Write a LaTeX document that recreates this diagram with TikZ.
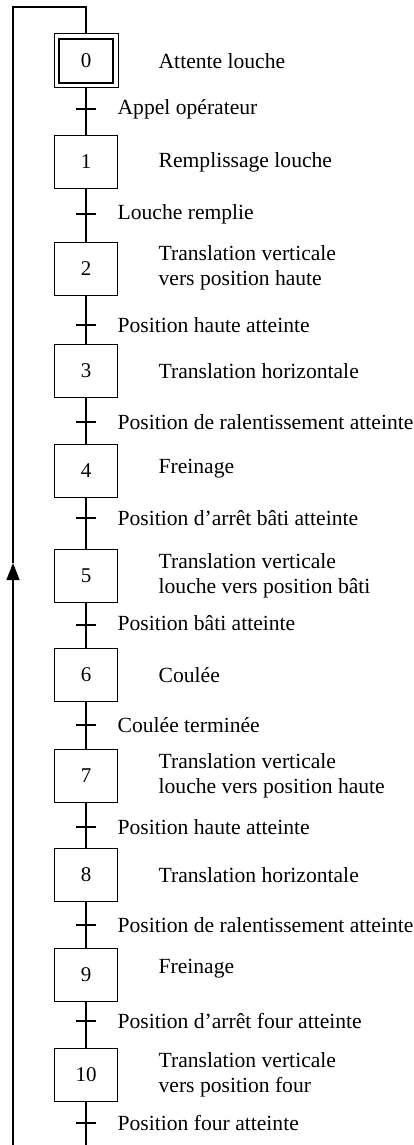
\documentclass[tikz,border=0pt]{standalone}
\usepackage{fontspec}
\setmainfont{Liberation Serif}
\usetikzlibrary{arrows.meta, calc, positioning}

\begin{document}
\begin{tikzpicture}[
    x=1pt, y=-1pt,
    >=Latex,
    line width=1.3pt,
    stepBox/.style={draw, rectangle, minimum width=63pt, minimum height=53pt, inner sep=0pt, font=\fontsize{21}{25}\selectfont},
    actionText/.style={anchor=west, align=left, inner sep=0pt, font=\fontsize{21.6}{25}\selectfont},
    transText/.style={anchor=west, inner sep=0pt, font=\fontsize{21.6}{25}\selectfont},
    tickLine/.style={line width=1.3pt}
]
\useasboundingbox (0,0) rectangle (414,1145);

% ----------------------------------------------------
% Steps
% ----------------------------------------------------
\node[draw, line width=1pt, minimum width=64pt, minimum height=54pt] (S0out) at (86, 61) {};
\node[stepBox, line width=1.8pt, minimum width=54pt, minimum height=44pt] (S0) at (86, 61) {0};
\node[stepBox] (S1) at (86, 162) {1};
\node[stepBox] (S2) at (86, 269) {2};
\node[stepBox] (S3) at (86, 371) {3};
\node[stepBox] (S4) at (86, 471) {4};
\node[stepBox] (S5) at (86, 576) {5};
\node[stepBox] (S6) at (86, 675) {6};
\node[stepBox] (S7) at (86, 776) {7};
\node[stepBox] (S8) at (86, 875) {8};
\node[stepBox] (S9) at (86, 975) {9};
\node[stepBox] (S10) at (86, 1075) {10};

% ----------------------------------------------------
% Actions
% ----------------------------------------------------
\node[actionText] (A0) at (158, 61) {Attente louche};
\node[actionText] (A1) at (158, 162) {Remplissage louche};
\node[actionText] (A2) at (158, 268) {Translation verticale\\vers position haute};
\node[actionText] (A3) at (158, 371) {Translation horizontale};
\node[actionText] (A4) at (158, 469) {Freinage};
\node[actionText] (A5) at (158, 576) {Translation verticale\\louche vers position b\^ati};
\node[actionText] (A6) at (158, 675) {Coul\'ee};
\node[actionText] (A7) at (158, 776) {Translation verticale\\louche vers position haute};
\node[actionText] (A8) at (158, 875) {Translation horizontale};
\node[actionText] (A9) at (158, 969) {Freinage};
\node[actionText] (A10) at (158, 1075) {Translation verticale\\vers position four};

% ----------------------------------------------------
% Transitions
% ----------------------------------------------------
\coordinate (T1) at (86, 109);
\coordinate (T2) at (86, 214);
\coordinate (T3) at (86, 325);
\coordinate (T4) at (86, 422);
\coordinate (T5) at (86, 518);
\coordinate (T6) at (86, 625);
\coordinate (T7) at (86, 725);
\coordinate (T8) at (86, 827);
\coordinate (T9) at (86, 925);
\coordinate (T10) at (86, 1021);
\coordinate (T11) at (86, 1123);

\node[transText] (R1) at (117, 109) {Appel op\'erateur};
\node[transText] (R2) at (117, 214) {Louche remplie};
\node[transText] (R3) at (117, 325) {Position haute atteinte};
\node[transText] (R4) at (117, 422) {Position de ralentissement atteinte};
\node[transText] (R5) at (117, 518) {Position d'arr\^et b\^ati atteinte};
\node[transText] (R6) at (117, 623) {Position b\^ati atteinte};
\node[transText] (R7) at (117, 725) {Coul\'ee termin\'ee};
\node[transText] (R8) at (117, 827) {Position haute atteinte};
\node[transText] (R9) at (117, 925) {Position de ralentissement atteinte};
\node[transText] (R10) at (117, 1021) {Position d'arr\^et four atteinte};
\node[transText] (R11) at (117, 1123) {Position four atteinte};

% links between steps
\draw (S0out.south) -- (S1.north);
\draw (S1.south) -- (S2.north);
\draw (S2.south) -- (S3.north);
\draw (S3.south) -- (S4.north);
\draw (S4.south) -- (S5.north);
\draw (S5.south) -- (S6.north);
\draw (S6.south) -- (S7.north);
\draw (S7.south) -- (S8.north);
\draw (S8.south) -- (S9.north);
\draw (S9.south) -- (S10.north);

% transition bars
\foreach \t in {T1,T2,T3,T4,T5,T6,T7,T8,T9,T10,T11}
    \draw[tickLine] ($(\t)+(-10,0)$) -- ($(\t)+(10,0)$);

% ----------------------------------------------------
% Loop back to initial step
% ----------------------------------------------------
\coordinate (Bot) at (86, 1145);
\coordinate (LoopBot) at (13, 1145);
\coordinate (LoopArrow) at (13, 563);
\coordinate (LoopTop) at (13, 7);
\coordinate (TopRight) at (86, 7);

\draw (S10.south) -- (Bot);
\draw[-{Triangle[length=17pt, width=13pt]}] (LoopBot) -- (LoopArrow);
\draw (LoopArrow) -- (LoopTop) -- (TopRight) -- (S0out.north);

\end{tikzpicture}
\end{document}
